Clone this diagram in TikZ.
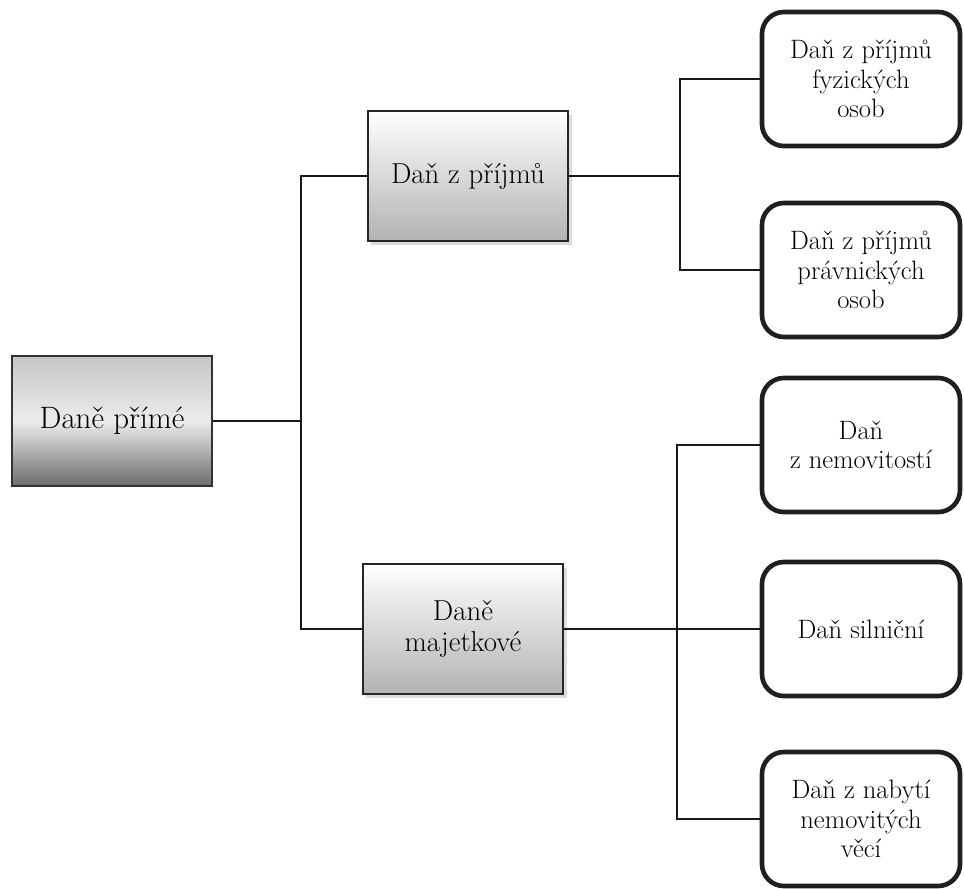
\documentclass[tikz,border=0pt]{standalone}
\usetikzlibrary{shadows}

\begin{document}
\begin{tikzpicture}[x=0.025cm,y=-0.025cm,
  link/.style={line width=1.1pt,black!90},
  rootbox/.style={draw=black!80,line width=.8pt,minimum width=5cm,minimum height=3.25cm,shading=axis,shading angle=35,top color=gray!45,bottom color=gray!85!black,middle color=gray!15,font=\fontsize{22}{25}\selectfont},
  groupbox/.style={draw=black!85,line width=1pt,minimum width=5cm,minimum height=3.25cm,top color=white,bottom color=gray!60,align=center,drop shadow={shadow xshift=2.5pt,shadow yshift=-2.5pt,fill=gray!55},font=\fontsize{20.5}{21.5}\selectfont},
  taxbox/.style={draw=black!88,line width=3.3pt,rounded corners=.55cm,fill=white,minimum width=4.95cm,minimum height=3.35cm,align=center,font=\fontsize{18.9}{20.8}\selectfont}]
\useasboundingbox (0,0) rectangle (964,888);

% levels
\node[rootbox] (prime) at (112,421) {Daně přímé};
\node[groupbox] (prijmu) at (468,176) {Daň z příjmů};
\node[groupbox] (majet) at (463,629) {Daně\\majetkové};
\node[taxbox] (fo) at (861,79) {Daň z příjmů\\fyzických\\osob};
\node[taxbox] (po) at (861,270) {Daň z příjmů\\právnických\\osob};
\node[taxbox] (nemov) at (861,445) {Daň\\z nemovitostí};
\node[taxbox] (silnicni) at (861,629) {Daň silniční};
\node[taxbox] (nabyti) at (861,819) {Daň z nabytí\\nemovitých\\věcí};

% junctions
\coordinate (j1) at (301,0);\coordinate (j2) at (680,0);\coordinate (j3) at (677,0);

\draw[link] (prime.east) -- (prime.east -| j1);
\draw[link] (prijmu.west) -- (prijmu.west -| j1) -- (majet.west -| j1) -- (majet.west);
\draw[link] (prijmu.east) -- (prijmu.east -| j2);
\draw[link] (fo.west) -- (fo.west -| j2) -- (po.west -| j2) -- (po.west);
\draw[link] (majet.east) -- (silnicni.west);
\draw[link] (nemov.west) -- (nemov.west -| j3) -- (nabyti.west -| j3) -- (nabyti.west);
\end{tikzpicture}
\end{document}
